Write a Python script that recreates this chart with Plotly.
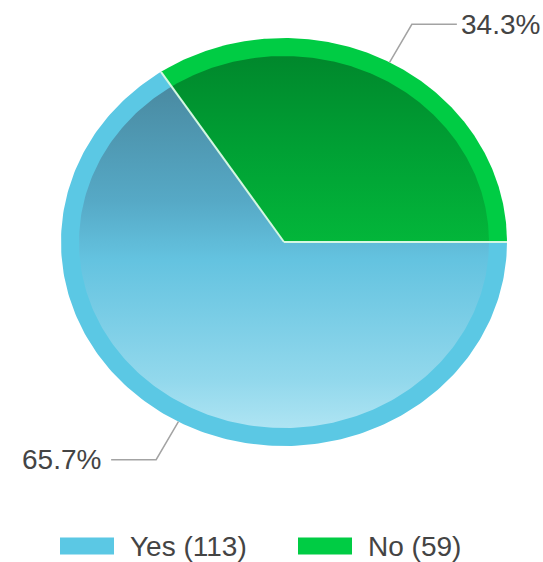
import numpy as np
import plotly.graph_objects as go

# ---- data ----
labels = ["No", "Yes"]
counts = [59, 113]
legend_labels = ["Yes", "No"]

# ---- style ----
rim_colors = {"No": "#00cc44", "Yes": "#5bc8e4"}
inner_scales = {
    "No": [[0, "#00c03e"], [0.5, "#03b63a"], [0.75, "#00a034"], [1, "#00882c"]],
    "Yes": [[0, "#aee4f3"], [0.13, "#92d8ec"], [0.45, "#64c3e0"], [0.61, "#56a9c6"],
            [0.88, "#4b8ea6"], [1, "#45849b"]],
}
W, H = 543, 562
CX, CY = 284, H - 242          # pie centre (y measured upward)
RX, RY = 223, 204              # outer radii in px
RIM = 18                       # rim thickness
LEADER_LEN = 44
LEADER_H = 45
FONT = "Arial, Liberation Sans, sans-serif"
TEXT_COLOR = "#444444"

total = sum(counts)
fracs = [c / total for c in counts]

fig = go.Figure()


def sector(a0, a1, rx, ry, n=240):
    t = np.linspace(a0, a1, n)
    xs = np.concatenate([[CX], CX + rx * np.cos(t), [CX]])
    ys = np.concatenate([[CY], CY + ry * np.sin(t), [CY]])
    return xs, ys


# cumulative angles, counter-clockwise from 3 o'clock
bounds = [0.0]
for f in fracs:
    bounds.append(bounds[-1] + f * 2 * np.pi)

# rims
for lab, a0, a1 in zip(labels, bounds[:-1], bounds[1:]):
    xs, ys = sector(a0, a1, RX, RY)
    fig.add_trace(go.Scatter(x=xs, y=ys, fill="toself", mode="lines",
                             line=dict(width=0, color=rim_colors[lab]),
                             fillcolor=rim_colors[lab], showlegend=False,
                             hoverinfo="skip"))
# inner gradient parts
RXI, RYI = RX - RIM, RY - RIM
for lab, cnt, a0, a1 in zip(labels, counts, bounds[:-1], bounds[1:]):
    xs, ys = sector(a0, a1, RXI, RYI)
    fig.add_trace(go.Scatter(x=xs, y=ys, fill="toself", mode="lines",
                             line=dict(width=0, color=rim_colors[lab]),
                             fillgradient=dict(type="vertical",
                                               colorscale=inner_scales[lab],
                                               start=CY - RYI, stop=CY + RYI),
                             name=f"{lab} ({cnt})", showlegend=False,
                             hoverinfo="skip"))
# separators
for a in bounds[:-1]:
    fig.add_trace(go.Scatter(x=[CX, CX + RX * np.cos(a)], y=[CY, CY + RY * np.sin(a)],
                             mode="lines", line=dict(width=2, color="#d4f7e2"),
                             showlegend=False, hoverinfo="skip"))

# leader lines + percentage labels
annotations = []
for lab, f, a0, a1 in zip(labels, fracs, bounds[:-1], bounds[1:]):
    m = (a0 + a1) / 2
    ex, ey = CX + RX * np.cos(m), CY + RY * np.sin(m)
    dx, dy = RX * np.cos(m), RY * np.sin(m)
    nrm = np.hypot(dx, dy)
    bx, by = ex + LEADER_LEN * dx / nrm, ey + LEADER_LEN * dy / nrm
    side = 1 if np.cos(m) > 0 else -1
    tx = bx + side * LEADER_H
    fig.add_trace(go.Scatter(x=[ex, bx, tx], y=[ey, by, by], mode="lines",
                             line=dict(width=1.5, color="#a3a3a3"),
                             showlegend=False, hoverinfo="skip"))
    annotations.append(dict(x=tx + side * (2 if side > 0 else 8), y=by, xref="x", yref="y",
                            text=f"{100 * f:.1f}%", showarrow=False,
                            xanchor="left" if side > 0 else "right", yanchor="middle",
                            font=dict(family=FONT, size=28, color=TEXT_COLOR)))

# legend (drawn below the pie)
LEG_X0, LEG_STEP, LEG_Y = 60, 238, H - 546
SW_W, SW_H, SW_GAP = 54, 17, 14
shapes = []
for i, lab in enumerate(legend_labels):
    x0 = LEG_X0 + i * LEG_STEP
    shapes.append(dict(type="rect", xref="x", yref="y", x0=x0, x1=x0 + SW_W,
                       y0=LEG_Y - SW_H / 2, y1=LEG_Y + SW_H / 2,
                       fillcolor=rim_colors[lab], line=dict(width=0)))
    annotations.append(dict(x=x0 + SW_W + SW_GAP, y=LEG_Y, xref="x", yref="y",
                            text=f"{lab} ({counts[labels.index(lab)]})", showarrow=False,
                            xanchor="left", yanchor="middle",
                            font=dict(family=FONT, size=28, color=TEXT_COLOR)))

fig.update_layout(
    width=W, height=H, margin=dict(l=0, r=0, t=0, b=0),
    paper_bgcolor="white", plot_bgcolor="white",
    xaxis=dict(range=[0, W], visible=False, fixedrange=True),
    yaxis=dict(range=[0, H], visible=False, fixedrange=True),
    showlegend=False, annotations=annotations, shapes=shapes,
    hovermode=False,
)
fig.write_html("out.html", config={"displayModeBar": False},
               post_script="document.body.style.margin='0';document.body.style.overflow='hidden';")
